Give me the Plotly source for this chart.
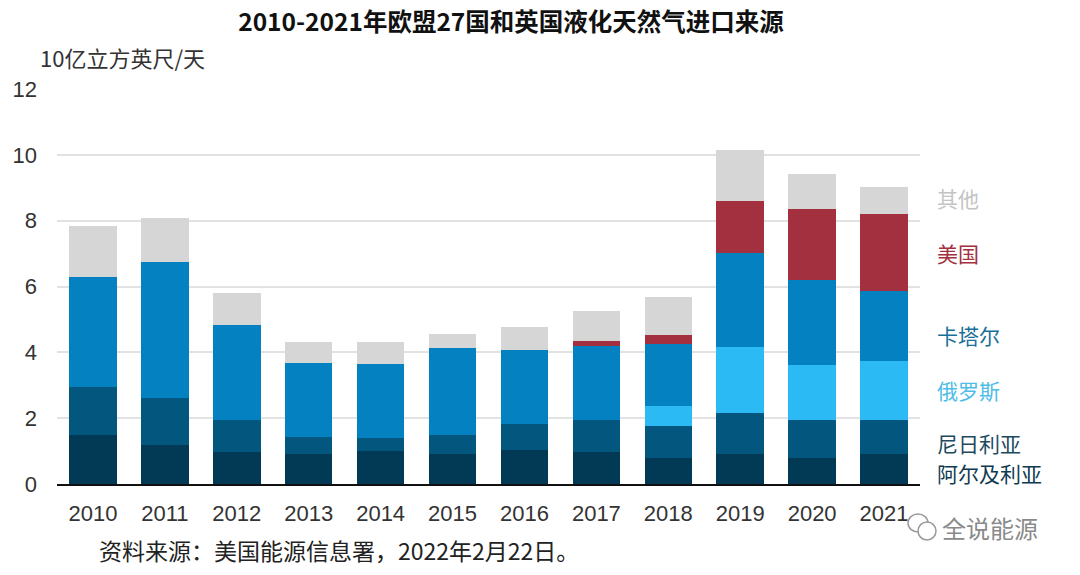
import plotly.graph_objects as go

years = ["2010", "2011", "2012", "2013", "2014", "2015", "2016", "2017", "2018", "2019", "2020", "2021"]
algeria = [1.48, 1.19, 0.97, 0.91, 1.01, 0.92, 1.02, 0.96, 0.79, 0.92, 0.79, 0.91]
nigeria = [1.48, 1.42, 0.96, 0.51, 0.40, 0.56, 0.79, 0.97, 0.96, 1.23, 1.14, 1.02]
russia = [0, 0, 0, 0, 0, 0, 0, 0, 0.63, 2.00, 1.69, 1.82]
qatar = [3.34, 4.14, 2.91, 2.26, 2.23, 2.65, 2.27, 2.25, 1.86, 2.87, 2.57, 2.11]
usa = [0, 0, 0, 0, 0, 0, 0, 0.16, 0.30, 1.58, 2.15, 2.35]
other = [1.55, 1.33, 0.95, 0.64, 0.67, 0.43, 0.69, 0.93, 1.14, 1.56, 1.09, 0.81]

series = [
    ("阿尔及利亚", algeria, "#023a56"),
    ("尼日利亚", nigeria, "#03577f"),
    ("俄罗斯", russia, "#2cbaf5"),
    ("卡塔尔", qatar, "#0381c1"),
    ("美国", usa, "#a3303f"),
    ("其他", other, "#d6d6d6"),
]

label_pos = [
    ("其他", 8.69, "#c4c4c4"),
    ("美国", 7.02, "#a3303f"),
    ("卡塔尔", 4.53, "#1a6f99"),
    ("俄罗斯", 2.86, "#4fbde6"),
    ("尼日利亚", 1.26, "#1d4a60"),
    ("阿尔及利亚", 0.33, "#0f3a50"),
]

L, R, T, B = 57, 160, 89, 91
PW, PH = 1080 - L - R, 575 - T - B


def px(x):
    return (x - L) / PW


def py(y):
    return (575 - B - y) / PH


fig = go.Figure()
for name, vals, color in series:
    fig.add_trace(go.Bar(x=years, y=vals, name=name, marker=dict(color=color, line=dict(width=0))))

for text, yv, color in label_pos:
    fig.add_annotation(x=1.0, xref="paper", xanchor="left", xshift=15, y=yv, yref="y",
                       text=text, showarrow=False,
                       font=dict(size=21, color=color, family="Noto Sans CJK SC"))

fig.update_layout(
    width=1080, height=575,
    barmode="stack", bargap=0.34,
    showlegend=False,
    plot_bgcolor="white", paper_bgcolor="white",
    margin=dict(l=L, r=R, t=T, b=B),
    title=dict(text="<b>2010-2021年欧盟27国和英国液化天然气进口来源</b>",
               x=511 / 1080, xanchor="center", y=1 - 22 / 575, yanchor="middle",
               font=dict(size=24.5, color="#111111", family="Noto Sans CJK SC")),
    xaxis=dict(showgrid=False, showline=True, linecolor="#111111", linewidth=2,
               ticks="", ticklabelstandoff=9,
               tickfont=dict(size=22, color="#333333", family="Liberation Sans, Arial")),
    yaxis=dict(range=[0, 12], dtick=2, showgrid=True, gridcolor="#e2e2e2", gridwidth=1.5,
               zeroline=False, showline=False, ticks="", ticklabelstandoff=19,
               tickfont=dict(size=22, color="#333333", family="Liberation Sans, Arial")),
)

fig.add_annotation(x=px(38), xref="paper", xanchor="left", y=py(57), yref="paper", yanchor="middle",
                   text="10亿立方英尺/天", showarrow=False,
                   font=dict(size=22, color="#333333", family="Noto Sans CJK SC"))
fig.add_annotation(x=px(97), xref="paper", xanchor="left", y=py(550), yref="paper", yanchor="middle",
                   text="资料来源：美国能源信息署，2022年2月22日。", showarrow=False,
                   font=dict(size=23, color="#222222", family="Noto Sans CJK SC"))
fig.add_annotation(x=px(940), xref="paper", xanchor="left", y=py(527), yref="paper", yanchor="middle",
                   text="全说能源", showarrow=False,
                   font=dict(size=24, color="#8a8a8a", family="Noto Sans CJK SC"))
fig.add_shape(type="circle", xref="paper", yref="paper",
              x0=px(908), x1=px(928), y0=py(532), y1=py(514),
              line=dict(color="#9a9a9a", width=1.5))
fig.add_shape(type="circle", xref="paper", yref="paper",
              x0=px(918), x1=px(936), y0=py(540), y1=py(522),
              line=dict(color="#9a9a9a", width=1.5), fillcolor="white")

fig.write_html("out.html", config={"displayModeBar": False},
               post_script="document.body.style.margin='0';")
